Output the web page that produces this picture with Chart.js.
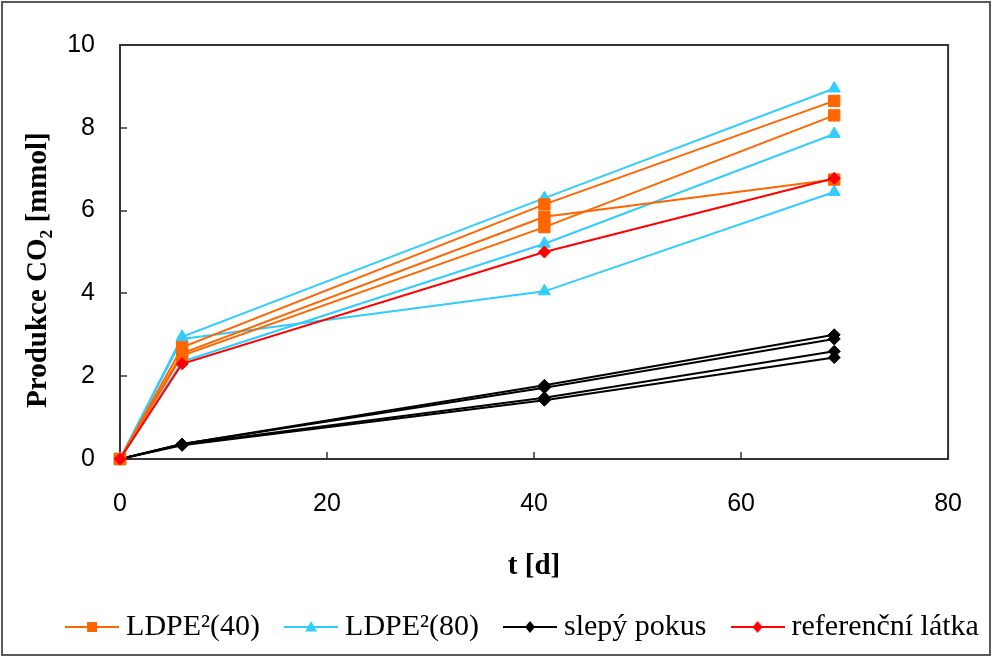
<!DOCTYPE html>
<html>
<head>
<meta charset="utf-8">
<title>Produkce CO2</title>
<script src="https://cdn.jsdelivr.net/npm/chart.js@4.4.0/dist/chart.umd.min.js"></script>
<style>
  html, body { margin: 0; padding: 0; background: #fff; overflow: hidden; }
  #co2Chart { display: block; }
</style>
</head>
<body>
<canvas id="co2Chart" width="992" height="657"></canvas>
<script>
/* ============================================================
   DATA
   ============================================================ */

const days = [0, 6, 41, 69];

// LDPE²(40) – three parallel runs
const ldpe40 = [
  [0, 2.70, 6.15, 8.65],
  [0, 2.50, 5.60, 8.30],
  [0, 2.55, 5.85, 6.75],
];

// LDPE²(80) – three parallel runs
const ldpe80 = [
  [0, 2.95, 6.30, 8.95],
  [0, 2.35, 5.20, 7.85],
  [0, 2.90, 4.05, 6.45],
];

// slepý pokus (blank)
const blank = [
  [0, 0.36, 1.78, 3.00],
  [0, 0.36, 1.72, 2.90],
  [0, 0.35, 1.48, 2.60],
  [0, 0.33, 1.42, 2.45],
];

// referenční látka
const reference = [0, 2.30, 5.00, 6.78];

const xTicks = [0, 20, 40, 60, 80];
const yTicks = [0, 2, 4, 6, 8, 10];

/* ============================================================
   SERIES GROUPS
   ============================================================ */

const groups = [
  { label: 'LDPE²(40)',        color: '#FF6600', shape: 'rect',     radius: 8, order: 1, runs: ldpe40 },
  { label: 'LDPE²(80)',        color: '#33CCFF', shape: 'triangle', radius: 7, order: 2, runs: ldpe80 },
  { label: 'slepý pokus',      color: '#000000', shape: 'rectRot',  radius: 6, order: 3, runs: blank },
  { label: 'referenční látka', color: '#FF0000', shape: 'rectRot',  radius: 6, order: 0, runs: [reference] },
];

const SERIF = "'Liberation Serif', 'Times New Roman', serif";
const SANS  = "'Liberation Sans', Arial, sans-serif";
const LEGEND_SHIFT = 30;   // legend row sits a little right of centre

/** Small line + marker image used as the legend symbol */
function legendIcon(color, shape) {
  const c = document.createElement('canvas');
  c.width = 54; c.height = 20;
  const g = c.getContext('2d');
  g.strokeStyle = color; g.fillStyle = color; g.lineWidth = 2;
  g.beginPath(); g.moveTo(0, 10); g.lineTo(54, 10); g.stroke();
  g.beginPath();
  if (shape === 'rect') {
    g.rect(22, 5, 10, 10);
  } else if (shape === 'triangle') {
    g.moveTo(27, 4); g.lineTo(33, 14.5); g.lineTo(21, 14.5); g.closePath();
  } else {
    g.moveTo(27, 4); g.lineTo(32, 10); g.lineTo(27, 16); g.lineTo(22, 10); g.closePath();
  }
  g.fill();
  return c;
}

/* ============================================================
   DATASETS
   ============================================================ */

const datasets = [];
const firstIndex = [];
groups.forEach((grp, gi) => {
  firstIndex[gi] = datasets.length;
  grp.runs.forEach(run => {
    datasets.push({
      label: grp.label,
      data: run.map((v, i) => ({ x: days[i], y: v })),
      borderColor: grp.color,
      backgroundColor: grp.color,
      pointBackgroundColor: grp.color,
      pointBorderColor: grp.color,
      pointStyle: grp.shape,
      pointRadius: grp.radius,
      pointHoverRadius: grp.radius,
      pointBorderWidth: 1,
      borderWidth: 2,
      tension: 0,
      fill: false,
      clip: false,
      order: grp.order,
    });
  });
});

const icons = groups.map(g => legendIcon(g.color, g.shape));

/* ============================================================
   PLOT FRAME, INSIDE TICKS, OUTER BORDER
   ============================================================ */

const plotFrame = {
  id: 'plotFrame',
  afterLayout(chart) {
    chart.legend.left  += LEGEND_SHIFT;
    chart.legend.right += LEGEND_SHIFT;
  },
  beforeDraw(chart) {
    const { ctx, width, height } = chart;
    ctx.save();
    ctx.fillStyle = '#fff';
    ctx.fillRect(0, 0, width, height);
    ctx.strokeStyle = '#5a5a5a';
    ctx.lineWidth = 2;
    ctx.strokeRect(2, 2, width - 4, height - 4);
    ctx.restore();
  },
  beforeDatasetsDraw(chart) {
    const { ctx, chartArea: a, scales: { x, y } } = chart;
    ctx.save();
    ctx.strokeStyle = '#333';
    ctx.lineWidth = 2;
    ctx.strokeRect(a.left, a.top, a.right - a.left, a.bottom - a.top);
    ctx.lineWidth = 1.5;
    ctx.beginPath();
    y.ticks.forEach(t => {
      const py = Math.round(y.getPixelForValue(t.value));
      ctx.moveTo(a.left, py); ctx.lineTo(a.left + 7, py);
    });
    x.ticks.forEach(t => {
      const px = Math.round(x.getPixelForValue(t.value));
      ctx.moveTo(px, a.bottom); ctx.lineTo(px, a.bottom - 7);
    });
    ctx.stroke();
    ctx.restore();
  },
};

/* ============================================================
   CHART
   ============================================================ */

Chart.defaults.color = '#000';

new Chart(document.getElementById('co2Chart'), {
  type: 'line',
  data: { datasets },
  plugins: [plotFrame],
  options: {
    responsive: false,
    animation: false,
    devicePixelRatio: 1,
    layout: { padding: { top: 45, right: 0, bottom: 5, left: 0 } },
    plugins: {
      tooltip: { enabled: false },
      legend: {
        position: 'bottom',
        labels: {
          usePointStyle: true,
          pointStyleWidth: 38,
          padding: 32,
          color: '#000',
          font: { family: SERIF, size: 30 },
          generateLabels: () => groups.map((g, gi) => ({
            text: g.label,
            pointStyle: icons[gi],
            fillStyle: g.color,
            strokeStyle: g.color,
            lineWidth: 0,
            hidden: false,
            datasetIndex: firstIndex[gi],
          })),
        },
      },
    },
    scales: {
      x: {
        type: 'linear',
        min: 0,
        max: 80,
        afterBuildTicks: s => { s.ticks = xTicks.map(v => ({ value: v })); },
        afterFit: s => { s.height = 121; },
        grid: { display: false, drawTicks: false },
        border: { display: false },
        ticks: { padding: 30, font: { family: SANS, size: 25 }, color: '#000' },
        title: {
          display: true,
          text: 't [d]',
          font: { family: SERIF, size: 29, weight: 'bold' },
          padding: { top: 0, bottom: -4 },
        },
      },
      y: {
        min: 0,
        max: 10,
        afterBuildTicks: s => { s.ticks = yTicks.map(v => ({ value: v })); },
        afterFit: s => { s.width = 120; },
        grid: { display: false, drawTicks: false },
        border: { display: false },
        ticks: { padding: 25, font: { family: SANS, size: 25 }, color: '#000' },
        title: {
          display: true,
          text: 'Produkce CO₂ [mmol]     ',
          font: { family: SERIF, size: 29, weight: 'bold' },
          padding: { top: 21, bottom: 0 },
        },
      },
      // empty right-hand box keeps the plot frame off the right edge
      yRight: {
        position: 'right',
        afterFit: s => { s.width = 41; },
        grid: { display: false, drawTicks: false },
        border: { display: false },
        ticks: { display: false },
      },
    },
  },
});
</script>
</body>
</html>
